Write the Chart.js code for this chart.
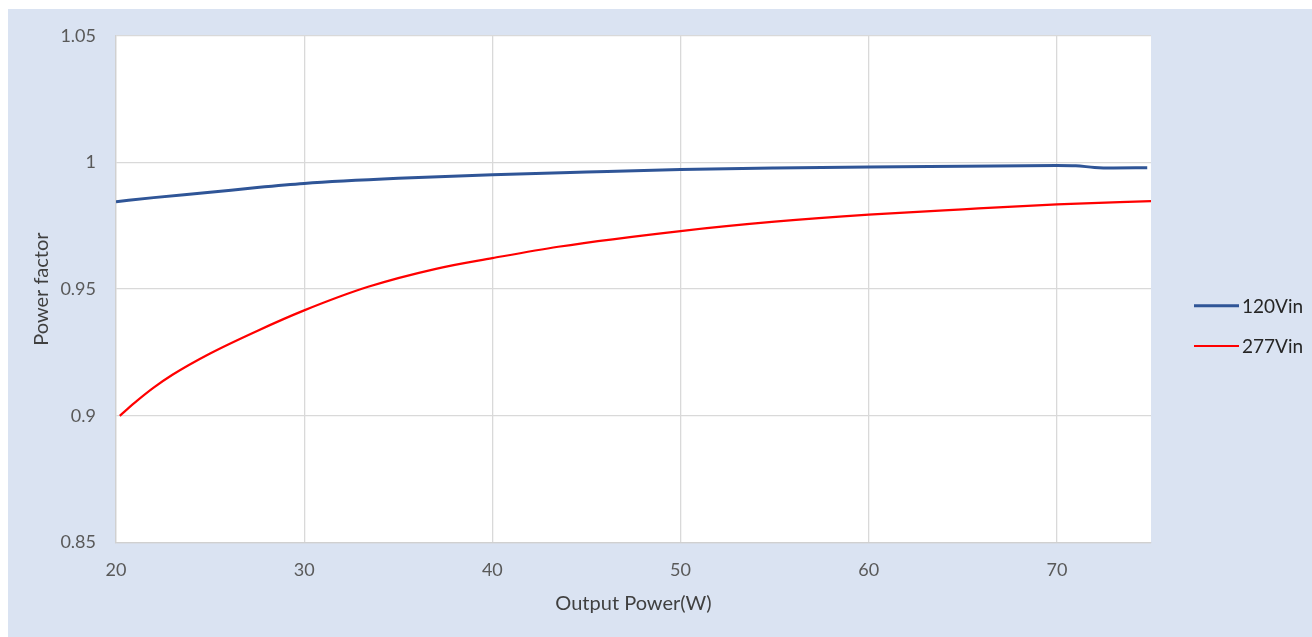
<!DOCTYPE html>
<html>
<head>
<meta charset="utf-8">
<script src="https://cdn.jsdelivr.net/npm/chart.js@4/dist/chart.umd.min.js"></script>
<style>
  html, body { margin: 0; padding: 0; background: #ffffff; }
  #wrap { position: absolute; left: 8px; top: 9px; width: 1304px; height: 628px; background: #dae3f2; }
  canvas { display: block; }
</style>
</head>
<body>
<div id="wrap"><canvas id="c" width="1304" height="628"></canvas></div>
<script>
// ---- data ----
const seriesNames = ['120Vin', '277Vin'];
const x120 = [20, 22, 25, 27.5, 30, 35, 40, 45, 50, 55, 60, 65, 70, 71, 72, 73, 74.8];
const y120 = [0.9845, 0.9861, 0.9882, 0.9901, 0.9917, 0.9937, 0.9951, 0.9962, 0.9972, 0.9978, 0.9982, 0.9985, 0.9988, 0.9987, 0.9980, 0.9978, 0.9979];
const x277 = [20.2, 21, 22, 23, 25, 27.5, 30, 33.4, 37, 40, 43.5, 50, 55, 60, 65, 70, 75];
const y277 = [0.9000, 0.9052, 0.9111, 0.9162, 0.9246, 0.9335, 0.9416, 0.9509, 0.9580, 0.9622, 0.9667, 0.9729, 0.9766, 0.9794, 0.9815, 0.9834, 0.9847];
const xTicks = [20, 30, 40, 50, 60, 70];
const yTicks = [0.85, 0.9, 0.95, 1, 1.05];
const yTickLabels = ['0.85', '0.9', '0.95', '1', '1.05'];
const xTitle = 'Output Power(W)';
const yTitle = 'Power factor';

const FONT = 'Lato, "Open Sans", sans-serif';
const colors = ['#2f5597', '#ff0000'];

const plotBg = {
  id: 'plotBg',
  beforeDraw(chart) {
    const { ctx, chartArea: a } = chart;
    ctx.save();
    ctx.fillStyle = '#ffffff';
    ctx.fillRect(a.left, a.top, a.right - a.left, a.bottom - a.top);
    ctx.restore();
  }
};

const sideLegend = {
  id: 'sideLegend',
  afterDraw(chart) {
    const { ctx, chartArea: a } = chart;
    const x0 = a.right + 43;
    const ys = [296.7, 337];
    ctx.save();
    chart.data.datasets.forEach((ds, i) => {
      ctx.strokeStyle = ds.borderColor;
      ctx.lineWidth = ds.borderWidth;
      ctx.beginPath();
      ctx.moveTo(x0, ys[i]);
      ctx.lineTo(x0 + 45, ys[i]);
      ctx.stroke();
      ctx.fillStyle = '#262626';
      ctx.font = '19px ' + FONT;
      ctx.textBaseline = 'middle';
      ctx.textAlign = 'left';
      ctx.fillText(ds.label, x0 + 48, ys[i] + 1);
    });
    ctx.restore();
  }
};

new Chart(document.getElementById('c'), {
  type: 'line',
  data: {
    datasets: [
      { label: seriesNames[0], data: x120.map((x, i) => ({ x, y: y120[i] })), borderColor: colors[0], backgroundColor: colors[0], borderWidth: 3, pointRadius: 0, tension: 0.4, cubicInterpolationMode: 'monotone', fill: false },
      { label: seriesNames[1], data: x277.map((x, i) => ({ x, y: y277[i] })), borderColor: colors[1], backgroundColor: colors[1], borderWidth: 2.2, pointRadius: 0, tension: 0.4, cubicInterpolationMode: 'monotone', fill: false }
    ]
  },
  options: {
    responsive: false,
    animation: false,
    devicePixelRatio: 1,
    layout: { padding: { top: 26.7, right: 161, left: 0, bottom: 0 } },
    plugins: { legend: { display: false }, tooltip: { enabled: false } },
    scales: {
      x: {
        type: 'linear', min: 20, max: 75,
        afterBuildTicks(s) { s.ticks = xTicks.map(v => ({ value: v })); },
        afterFit(s) { s.height = 94.5; },
        grid: { color: '#d9d9d9', lineWidth: 1.3, drawTicks: false },
        border: { color: '#d0d0d0', width: 1.3 },
        ticks: { padding: 17, color: '#595959', font: { family: FONT, size: 18 } },
        title: { display: true, text: xTitle, color: '#404040', font: { family: FONT, size: 20 }, padding: { top: 0, bottom: 21 } }
      },
      y: {
        type: 'linear', min: 0.85, max: 1.05,
        afterBuildTicks(s) { s.ticks = yTicks.map(v => ({ value: v })); },
        afterFit(s) { s.width = 108; s.paddingTop = 0; s.paddingBottom = 0; },
        grid: { color: '#d9d9d9', lineWidth: 1.3, drawTicks: false },
        border: { color: '#d0d0d0', width: 1.3 },
        ticks: { padding: 20, color: '#595959', font: { family: FONT, size: 18 },
          callback(v) { const i = yTicks.findIndex(t => Math.abs(t - v) < 1e-9); return i >= 0 ? yTickLabels[i] : ''; } },
        title: { display: true, text: yTitle, color: '#404040', font: { family: FONT, size: 20 }, padding: { top: 22, bottom: 0 } }
      }
    }
  },
  plugins: [plotBg, sideLegend]
});
</script>
</body>
</html>
